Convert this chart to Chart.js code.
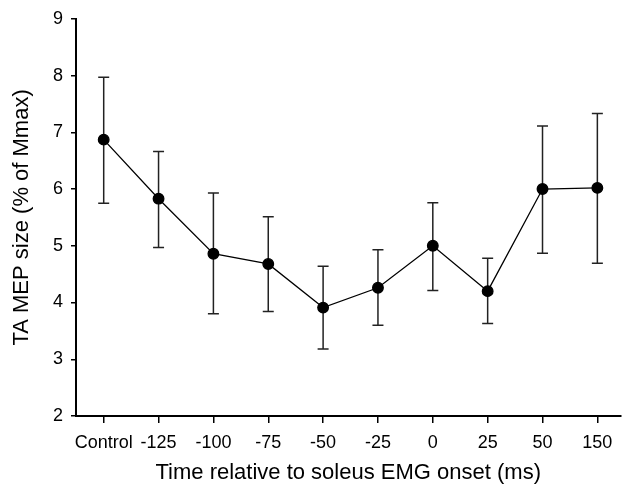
<!DOCTYPE html>
<html>
<head>
<meta charset="utf-8">
<script src="https://cdn.jsdelivr.net/npm/chart.js@4"></script>
<style>
html,body{margin:0;padding:0;background:#fff;}
#wrap{width:627px;height:489px;}
</style>
</head>
<body>
<div id="wrap"><canvas id="c" width="627" height="489"></canvas></div>
<script>
const categories = ["Control", "-125", "-100", "-75", "-50", "-25", "0", "25", "50", "150"];
const meanValues = [6.87, 5.83, 4.86, 4.68, 3.91, 4.26, 5.00, 4.20, 6.00, 6.02];
const upperValues = [7.97, 6.66, 5.93, 5.51, 4.64, 4.93, 5.76, 4.78, 7.11, 7.33];
const lowerValues = [5.75, 4.97, 3.80, 3.84, 3.18, 3.60, 4.21, 3.63, 4.87, 4.69];
const yTicks = [2, 3, 4, 5, 6, 7, 8, 9];

const points = meanValues.map((v, i) => ({x: i, y: v}));
const FONT = "'Liberation Sans', Arial, sans-serif";

const errorBars = {
  id: 'errorBars',
  beforeDatasetsDraw(chart) {
    const ctx = chart.ctx;
    const xs = chart.scales.x, ys = chart.scales.y;
    ctx.save();
    ctx.strokeStyle = '#222';
    ctx.lineWidth = 1.5;
    const cap = 5.5;
    for (let i = 0; i < meanValues.length; i++) {
      const px = xs.getPixelForValue(i);
      const yt = ys.getPixelForValue(upperValues[i]);
      const yb = ys.getPixelForValue(lowerValues[i]);
      ctx.beginPath();
      ctx.moveTo(px, yt); ctx.lineTo(px, yb);
      ctx.moveTo(px - cap, yt); ctx.lineTo(px + cap, yt);
      ctx.moveTo(px - cap, yb); ctx.lineTo(px + cap, yb);
      ctx.stroke();
    }
    ctx.restore();
  }
};

new Chart(document.getElementById('c'), {
  type: 'line',
  data: {
    datasets: [{
      data: points,
      borderColor: '#000',
      borderWidth: 1.3,
      backgroundColor: '#000',
      pointBackgroundColor: '#000',
      pointBorderColor: '#000',
      pointRadius: 5.3,
      pointHoverRadius: 5.3,
      tension: 0
    }]
  },
  options: {
    responsive: false,
    animation: false,
    events: [],
    layout: {padding: {top: 16, right: 1, bottom: 0, left: 0}},
    plugins: {legend: {display: false}, tooltip: {enabled: false}},
    scales: {
      x: {
        type: 'linear',
        min: -0.505,
        max: 9.42,
        afterBuildTicks(scale) { scale.ticks = categories.map((c, i) => ({value: i})); },
        afterFit(scale) { scale.height = 73; },
        ticks: {
          color: '#000',
          font: {family: FONT, size: 18},
          padding: 9,
          maxRotation: 0,
          autoSkip: false,
          callback: (v) => categories[v]
        },
        grid: {display: true, drawOnChartArea: false, drawTicks: true, tickLength: 7, color: '#000', lineWidth: 1.5},
        border: {display: true, color: '#000', width: 2},
        title: {
          display: true,
          text: 'Time relative to soleus EMG onset (ms)',
          color: '#000',
          font: {family: FONT, size: 22},
          padding: {top: 0, bottom: 3}
        }
      },
      y: {
        type: 'linear',
        min: 2,
        max: 9,
        afterBuildTicks(scale) { scale.ticks = yTicks.map(v => ({value: v})); },
        afterFit(scale) { scale.width = 76; },
        ticks: {
          color: '#000',
          font: {family: FONT, size: 18},
          padding: 8
        },
        grid: {display: true, drawOnChartArea: false, drawTicks: true, tickLength: 5, color: '#000', lineWidth: 1.5},
        border: {display: true, color: '#000', width: 2},
        title: {
          display: true,
          text: 'TA MEP size (% of Mmax)',
          color: '#000',
          font: {family: FONT, size: 22},
          padding: {top: 9, bottom: 0}
        }
      }
    }
  },
  plugins: [errorBars]
});
</script>
</body>
</html>
